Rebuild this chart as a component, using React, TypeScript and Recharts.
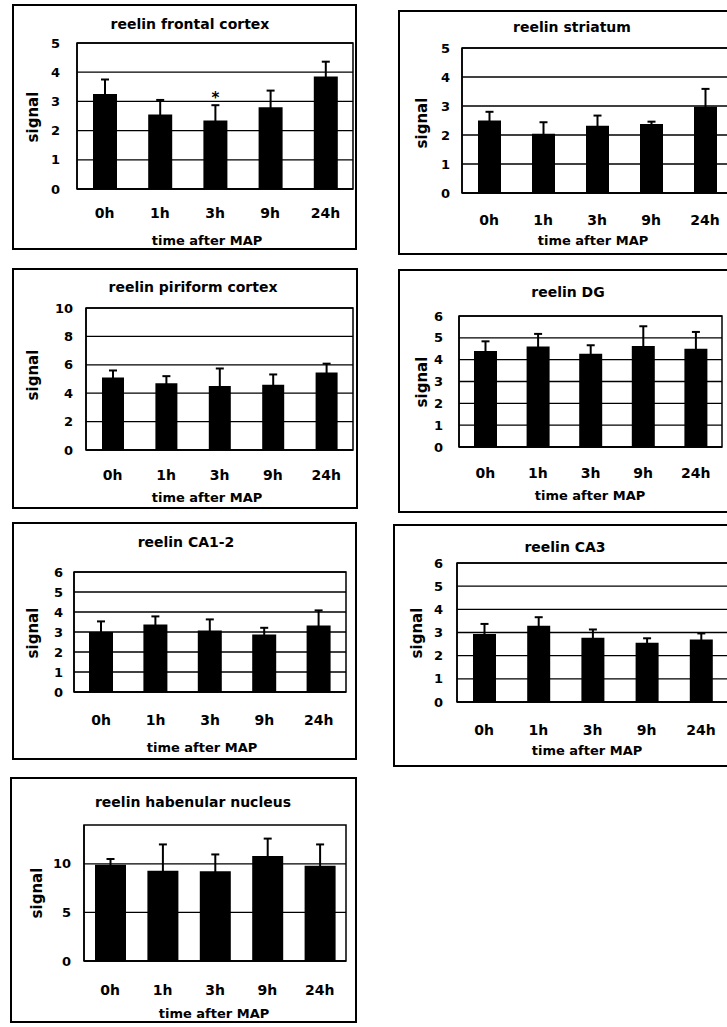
import React from 'react';
import { BarChart, Bar, XAxis, YAxis, CartesianGrid, ErrorBar, ReferenceArea, LabelList } from 'recharts';

const TIMES = ['0h', '1h', '3h', '9h', '24h'];

const FRONTAL = [3.25, 2.55, 2.35, 2.8, 3.85];
const FRONTAL_ERR = [0.5, 0.5, 0.52, 0.57, 0.51];
const FRONTAL_SIG = ['', '', '*', '', ''];

const STRIATUM = [2.5, 2.04, 2.32, 2.38, 2.97];
const STRIATUM_ERR = [0.3, 0.4, 0.35, 0.08, 0.62];

const PIRIFORM = [5.1, 4.7, 4.5, 4.6, 5.45];
const PIRIFORM_ERR = [0.5, 0.5, 1.24, 0.72, 0.63];

const DG = [4.4, 4.6, 4.27, 4.63, 4.5];
const DG_ERR = [0.44, 0.58, 0.39, 0.9, 0.77];

const CA12 = [3.0, 3.38, 3.08, 2.88, 3.32];
const CA12_ERR = [0.53, 0.4, 0.55, 0.33, 0.76];

const CA3 = [2.93, 3.29, 2.77, 2.56, 2.7];
const CA3_ERR = [0.44, 0.37, 0.36, 0.19, 0.26];

const HABENULAR = [9.9, 9.3, 9.25, 10.8, 9.8];
const HABENULAR_ERR = [0.6, 2.7, 1.72, 1.8, 2.2];

const TICKS_5 = [0, 1, 2, 3, 4, 5];
const TICKS_6 = [0, 1, 2, 3, 4, 5, 6];
const TICKS_10 = [0, 2, 4, 6, 8, 10];
const TICKS_HAB = [0, 5, 10];

const X_LABEL = 'time after MAP';
const Y_LABEL = 'signal';

const FONT = '"DejaVu Sans", sans-serif';

// page layout of each panel (outer box, plot area, text centres)
const PANELS = [
  {
    title: 'reelin frontal cortex', values: FRONTAL, errors: FRONTAL_ERR, sig: FRONTAL_SIG, max: 5, ticks: TICKS_5,
    box: { x: 12, y: 4, w: 345, h: 246 }, plot: { left: 77, top: 43, right: 353, bottom: 189 },
    titleAt: [190, 24], xLabelAt: [207, 240], yLabelAt: [33, 117], barSize: 24, xGap: 19, yGap: 17,
  },
  {
    title: 'reelin striatum', values: STRIATUM, errors: STRIATUM_ERR, max: 5, ticks: TICKS_5,
    box: { x: 398, y: 10, w: 340, h: 245 }, plot: { left: 462, top: 48, right: 732, bottom: 193 },
    titleAt: [572, 27], xLabelAt: [593, 240], yLabelAt: [422, 123], barSize: 23, xGap: 22, yGap: 12,
  },
  {
    title: 'reelin piriform cortex', values: PIRIFORM, errors: PIRIFORM_ERR, max: 10, ticks: TICKS_10,
    box: { x: 12, y: 268, w: 346, h: 241 }, plot: { left: 86, top: 308, right: 353, bottom: 450 },
    titleAt: [193, 287], xLabelAt: [207, 497], yLabelAt: [33, 375], barSize: 22, xGap: 20, yGap: 13,
  },
  {
    title: 'reelin DG', values: DG, errors: DG_ERR, max: 6, ticks: TICKS_6,
    box: { x: 398, y: 269, w: 335, h: 244 }, plot: { left: 459, top: 316, right: 722, bottom: 447 },
    titleAt: [568, 292], xLabelAt: [590, 495], yLabelAt: [422, 382], barSize: 23, xGap: 21, yGap: 16,
  },
  {
    title: 'reelin CA1-2', values: CA12, errors: CA12_ERR, max: 6, ticks: TICKS_6,
    box: { x: 12, y: 522, w: 345, h: 238 }, plot: { left: 74, top: 572, right: 346, bottom: 692 },
    titleAt: [186, 542], xLabelAt: [202, 747], yLabelAt: [33, 633], barSize: 24, xGap: 23, yGap: 11,
  },
  {
    title: 'reelin CA3', values: CA3, errors: CA3_ERR, max: 6, ticks: TICKS_6,
    box: { x: 393, y: 524, w: 345, h: 243 }, plot: { left: 457, top: 563, right: 728, bottom: 702 },
    titleAt: [565, 547], xLabelAt: [587, 750], yLabelAt: [417, 633], barSize: 23, xGap: 23, yGap: 14,
  },
  {
    title: 'reelin habenular nucleus', values: HABENULAR, errors: HABENULAR_ERR, max: 14, ticks: TICKS_HAB,
    box: { x: 10, y: 777, w: 347, h: 246 }, plot: { left: 84, top: 825, right: 346, bottom: 961 },
    titleAt: [193, 802], xLabelAt: [214, 1013], yLabelAt: [37, 893], barSize: 31, xGap: 24, yGap: 13,
  },
];

const textStyle = (x: number, y: number, size: number, rotate = false): React.CSSProperties => ({
  position: 'absolute',
  left: x,
  top: y,
  transform: `translate(-50%, -50%)${rotate ? ' rotate(-90deg)' : ''}`,
  whiteSpace: 'nowrap',
  fontFamily: FONT,
  fontWeight: 'bold',
  fontSize: size,
  color: '#000',
  lineHeight: 1,
});

const Panel = ({ p }: { p: any }) => {
  const data = TIMES.map((t, i) => ({
    time: t,
    signal: p.values[i],
    err: p.errors[i],
    sig: p.sig ? p.sig[i] : '',
  }));
  const { box, plot } = p;
  return (
    <div style={{ position: 'absolute', left: box.x, top: box.y, width: box.w, height: box.h, outline: '2px solid #000', outlineOffset: -2 }}>
      <BarChart
        width={box.w}
        height={box.h}
        data={data}
        margin={{ top: plot.top - box.y, right: box.x + box.w - plot.right, bottom: 0, left: 0 }}
        barSize={p.barSize}
      >
        <CartesianGrid vertical={false} horizontalValues={p.ticks} syncWithTicks stroke="#000" strokeWidth={1.3} />
        <XAxis
          dataKey="time"
          height={box.y + box.h - plot.bottom}
          axisLine={{ stroke: '#000', strokeWidth: 1.5 }}
          tickLine={false}
          tickSize={0}
          tickMargin={p.xGap}
          interval={0}
          tick={{ fill: '#000', fontSize: 14, fontWeight: 'bold', fontFamily: FONT }}
        />
        <YAxis
          width={plot.left - box.x}
          domain={[0, p.max]}
          ticks={p.ticks}
          interval={0}
          axisLine={{ stroke: '#000', strokeWidth: 1.5 }}
          tickLine={false}
          tickSize={0}
          tickMargin={p.yGap}
          tick={{ fill: '#000', fontSize: 13, fontWeight: 'bold', fontFamily: FONT }}
        />
        <ReferenceArea y1={0} y2={p.max} fill="none" stroke="#000" strokeWidth={1.5} ifOverflow="visible" />
        <Bar dataKey="signal" fill="#000" isAnimationActive={false}>
          <ErrorBar dataKey="err" width={4} stroke="#000" strokeWidth={2} isAnimationActive={false} />
          {p.sig && (
            <LabelList dataKey="sig" position="top" offset={17} fill="#000" fontSize={15} fontWeight="bold" fontFamily={FONT} />
          )}
        </Bar>
      </BarChart>
      <div style={textStyle(p.titleAt[0] - box.x, p.titleAt[1] - box.y, 14)}>{p.title}</div>
      <div style={textStyle(p.xLabelAt[0] - box.x, p.xLabelAt[1] - box.y, 13)}>{X_LABEL}</div>
      <div style={textStyle(p.yLabelAt[0] - box.x, p.yLabelAt[1] - box.y, 15, true)}>{Y_LABEL}</div>
    </div>
  );
};

export default function App() {
  return (
    <div style={{ position: 'fixed', left: 0, top: 0, width: 727, height: 1027, overflow: 'hidden', background: '#fff' }}>
      {PANELS.map((p) => (
        <Panel key={p.title} p={p} />
      ))}
    </div>
  );
}
